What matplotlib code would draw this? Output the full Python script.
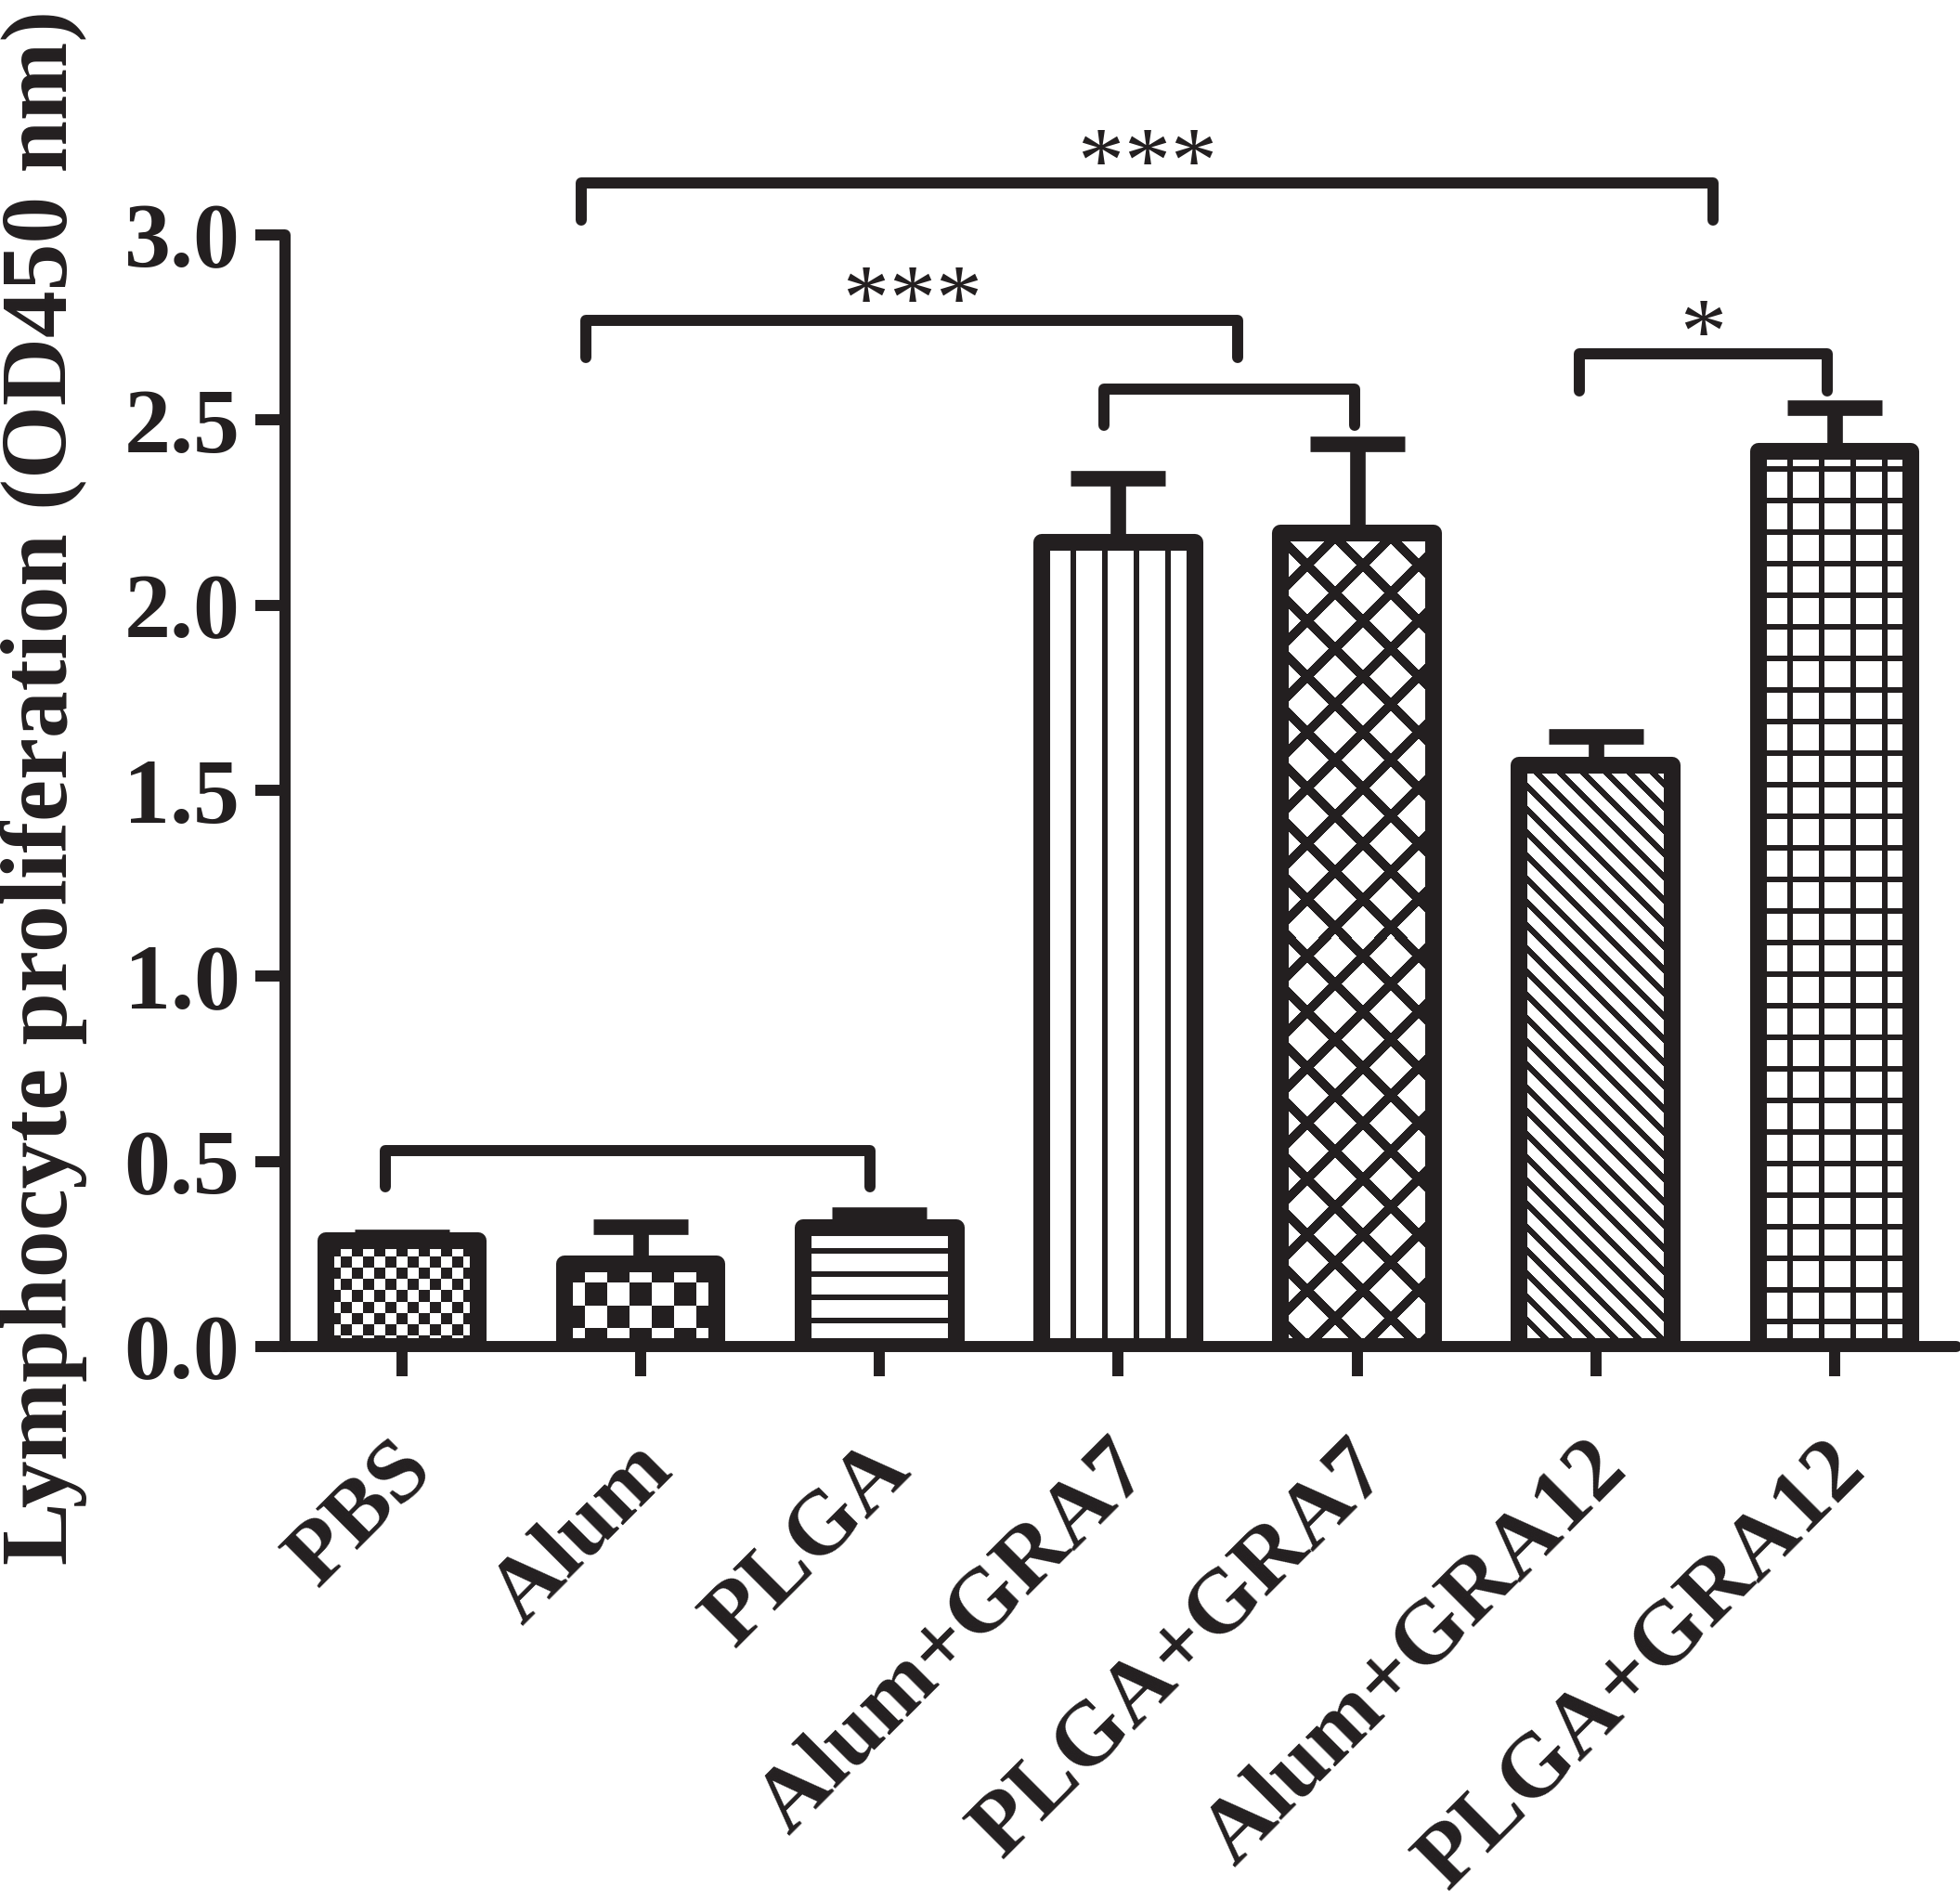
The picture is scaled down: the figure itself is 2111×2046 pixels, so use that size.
import numpy as np
import matplotlib
matplotlib.use('Agg')
import matplotlib.pyplot as plt
import matplotlib.transforms as mtrans
from matplotlib.colors import ListedColormap

groups = ['PBS', 'Alum', 'PLGA', 'Alum+GRA7', 'PLGA+GRA7', 'Alum+GRA12', 'PLGA+GRA12']
means = [0.286, 0.224, 0.32, 2.171, 2.196, 1.568, 2.415]
sds = [0.01, 0.10, 0.035, 0.173, 0.24, 0.078, 0.12]

# significance brackets: left end, right end, height, label
br_left = [-0.07, 0.77, 0.75, 2.94, 4.93]
br_right = [1.96, 3.50, 5.49, 3.99, 5.97]
br_y = [0.53, 2.77, 3.14, 2.585, 2.68]
br_text = ['', '***', '***', '', '*']

black = '#231f20'
plt.rcParams['font.family'] = ['Liberation Serif', 'DejaVu Serif']
plt.rcParams['font.weight'] = 'bold'

W, H, DPI = 2111, 2046, 100
fig = plt.figure(figsize=(W / DPI, H / DPI), dpi=DPI)
ax = fig.add_axes([307 / W, 596 / H, 1800 / W, 1197 / H])
ax.set_xlim(-0.49, 6.51)
ax.set_ylim(0, 3.0)

x = np.arange(len(groups))
bw = 0.64
bars = ax.bar(x, means, bw, color='white', edgecolor='none', zorder=1)


# pixel textures for the fills (xx, yy in pixels, centred on bar)
def checker(xx, yy, s):
    return ((xx // s + yy // s) % 2) == 0

patterns = [
    lambda xx, yy: checker(xx + 6, yy, 12),
    lambda xx, yy: checker(xx + 12, yy + 4, 24),
    lambda xx, yy: (yy % 25) < 6,
    lambda xx, yy: ((xx + 17) % 34) < 6,
    lambda xx, yy: (((xx + yy) % 60) < 14) | (((xx - yy) % 60) < 14),
    lambda xx, yy: ((xx + yy) % 25) < 9,
    lambda xx, yy: (((xx + 17) % 34) < 6) | (((yy + 10) % 34) < 6),
]
cmap = ListedColormap(['white', black])

for i, b in enumerate(bars):
    x0, x1 = b.get_x(), b.get_x() + b.get_width()
    p0 = ax.transData.transform((x0, 0))
    p1 = ax.transData.transform((x1, b.get_height()))
    nw = int(round(p1[0] - p0[0]))
    nh = int(round(p1[1] - p0[1]))
    xx, yy = np.meshgrid(np.arange(nw) - nw // 2, np.arange(nh))
    tex = patterns[i](xx, yy).astype(float)
    im = ax.imshow(tex, extent=(x0, x1, 0, b.get_height()), origin='lower',
                   cmap=cmap, vmin=0, vmax=1, interpolation='nearest',
                   aspect='auto', zorder=2)
    im.set_clip_path(b)

ax.bar(x, means, bw, fill=False, edgecolor=black, linewidth=13, zorder=3,
       joinstyle='round')
ax.errorbar(x, means, yerr=[np.zeros(len(sds)), sds], fmt='none', ecolor=black,
            elinewidth=12, capsize=37, capthick=12, zorder=4)

ax.set_xlim(-0.49, 6.51)
ax.set_ylim(0, 3.0)

for s in ['top', 'right']:
    ax.spines[s].set_visible(False)
for s in ['left', 'bottom']:
    ax.spines[s].set_linewidth(8.6)
    ax.spines[s].set_color(black)
    ax.spines[s].set_capstyle('round')

ax.set_yticks(np.arange(0, 3.01, 0.5))
ax.set_yticklabels(['%.1f' % v for v in np.arange(0, 3.01, 0.5)])
ax.set_xticks(x)
ax.set_xticklabels(groups, rotation=45, ha='right', va='top', rotation_mode='anchor')
ax.tick_params(axis='both', width=8.6, length=23, color=black, labelcolor=black, pad=12)
ax.tick_params(axis='y', labelsize=72)
ax.tick_params(axis='x', labelsize=70, pad=40)
shift = mtrans.ScaledTranslation(-12 / DPI, 0, fig.dpi_scale_trans)
for lab in ax.get_xticklabels():
    lab.set_transform(lab.get_transform() + shift)

fig.text(47 / W, 1 - 848 / H, 'Lymphocyte proliferation (OD450 nm)', rotation=90,
         ha='center', va='center', fontsize=73, fontweight='bold', color=black)

leg = 0.1
for l, r, y, t in zip(br_left, br_right, br_y, br_text):
    ax.plot([l, l, r, r], [y - leg, y, y, y - leg], color=black, lw=8.6,
            solid_capstyle='round', solid_joinstyle='round', clip_on=False, zorder=5)
    n = len(t)
    for k in range(n):
        ax.annotate('*', ((l + r) / 2, y - 0.02), xytext=((k - (n - 1) / 2) * 36, 0),
                    textcoords='offset points', ha='center', va='baseline',
                    fontsize=72, color=black, fontweight='normal',
                    annotation_clip=False)

fig.savefig('out.png', dpi=DPI)
